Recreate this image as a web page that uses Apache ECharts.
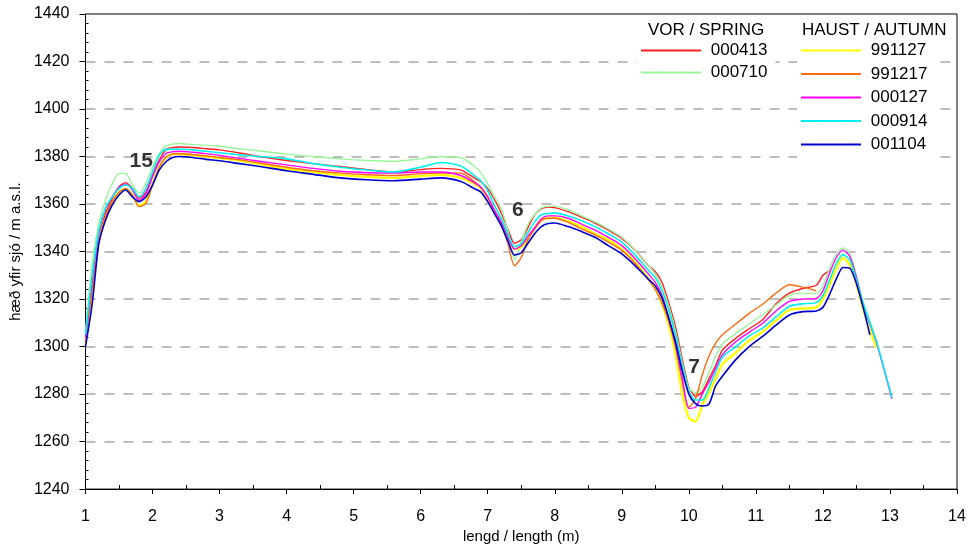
<!DOCTYPE html>
<html>
<head>
<meta charset="utf-8">
<script src="https://cdn.jsdelivr.net/npm/echarts@6/dist/echarts.min.js"></script>
<style>
html,body{margin:0;padding:0;background:#fff;}
#chart{width:969px;height:549px;}
</style>
</head>
<body>
<div id="chart"></div>
<script>
// ---- data ----
const lengths = [1.0,1.1,1.2,1.3,1.4,1.5,1.6,1.7,1.8,1.9,2.0,2.1,2.2,2.3,2.4,2.6,2.8,3.0,3.3,3.6,4.0,4.4,4.8,5.2,5.6,6.0,6.3,6.6,6.8,6.9,7.0,7.1,7.2,7.3,7.4,7.5,7.6,7.7,7.8,7.9,8.0,8.2,8.4,8.6,8.8,9.0,9.2,9.4,9.5,9.6,9.7,9.8,9.9,10.0,10.1,10.2,10.3,10.4,10.5,10.7,10.9,11.1,11.3,11.5,11.7,11.9,12.0,12.1,12.2,12.3,12.4,12.5,12.6,12.7,12.8,12.9,13.03];

const s000413 = [1302,1322,1345,1356,1362.4,1367.3,1369,1366.6,1362.4,1365,
  1372.2,1378.5,1383,1383.8,1384,1383.8,1383.3,1382.8,1381.5,1380,
  1378.3,1377,1375.8,1374.5,1373.5,1374.5,1375,1374.3,1371,1369.4,
  1366.5,1362,1356.4,1349.5,1343.5,1345,1350,1355.5,1358,1358.7,
  1358.5,1356.8,1354.5,1352,1349,1345.5,1340.5,1334,1331.5,1327,
  1318.5,1308.5,1295,1283,1279,1281,1286.5,1292,1298.5,1303.5,
  1307.5,1311.3,1318,1322.5,1324.5,1325.8,1330,1332,null,null,
  null,null,null,null,null,null,null];

const s000710 = [1306,1335,1352,1361.7,1368.7,1372.9,1372.9,1368,1364.5,1368.7,
  1375.7,1381.3,1384.4,1385.2,1385.5,1385,1384.8,1384.3,1383.3,1382.3,
  1381,1380,1379,1378.3,1378,1379,1380,1379.5,1376,1373,
  1368.5,1363,1358,1349,1336.5,1344,1351.5,1355.5,1358.3,1359,
  1359,1357.5,1355,1352.5,1349.5,1346,1340.5,1334,1330.5,1325,
  1317,1306.5,1293.5,1282.5,1280.5,1283,1289,1296,1301,1305.5,
  1309.5,1313.5,1317.5,1321.5,1322.5,1322.3,1325.5,1333,1339,1341.5,
  1339.5,1330,1319,1311,1302,null,null];

const s991127 = [1301,1323,1344,1354,1360.5,1365,1366.3,1363.8,1359.2,1361,
  1368.5,1375.5,1379.5,1381,1381,1380.6,1380,1379.3,1378.3,1376.8,
  1374.8,1373.5,1372.3,1371.5,1371,1371.8,1372.3,1371,1368.5,1366.5,
  1362.5,1357,1352.5,1346,1341,1342,1345.5,1350,1353.4,1354,
  1354.3,1352.8,1350.5,1347.5,1345,1341,1335.5,1328.5,1324.5,1318,
  1309,1297,1280.5,1270,1268.5,1275.5,1280.5,1286.5,1292.5,1297.5,
  1302.5,1306.2,1311,1315.5,1316,1316.5,1320,1326,1333,1337.3,
  1334.5,1326,1315.5,1307,1299.5,null,null];

const s991217 = [1302,1324,1344,1354.5,1361,1365,1366.6,1363.8,1358.9,1360.3,
  1368,1375.5,1379.8,1381,1381.3,1380.8,1380.3,1379.6,1378.6,1377.3,
  1375.5,1374,1373,1372.3,1372,1372.8,1373,1373,1369.5,1367,
  1363,1356.5,1351.5,1343.5,1334,1337.5,1345,1349.5,1353,1354,
  1354,1352.3,1349.5,1347,1344,1340.5,1335,1328,1324,1318.5,
  1310.5,1300,1285.5,1274.5,1278,1288,1296,1301.5,1305,1309.5,
  1314,1317.8,1322.5,1326,1325,1323.5,null,null,null,null,
  null,null,null,null,null,null,null];

const s000127 = [1304,1328,1348,1358,1363,1367,1368.4,1366,1361.5,1364.3,
  1371.5,1377.8,1381.3,1382,1382.2,1381.8,1381.2,1380.5,1379.2,1378,
  1376.5,1375,1373.8,1373.2,1373,1373.5,1373.5,1372,1369,1367,
  1363,1357.5,1352.5,1346.5,1341,1342.5,1346.5,1350,1353.8,1355,
  1355,1354,1351.5,1349,1346,1342.5,1337,1330.5,1327,1321.5,
  1312,1301,1287,1274,1274.5,1280,1285,1291,1296.5,1302,
  1306,1309.8,1315,1319,1320,1320.3,1323.5,1331,1337.5,1340.6,
  1338,1329,1317,1309.5,1301.5,1291.5,1278];

const s000914 = [1305,1330,1349,1358.5,1363,1366.5,1368,1366.6,1363,1366.5,
  1373.5,1380.5,1383,1383,1383.2,1382.8,1382.2,1381.6,1380.7,1380,
  1379,1377,1375.5,1374.3,1373.5,1375.5,1377.5,1376,1372,1369.7,
  1365.5,1359.5,1354,1347.5,1342,1343.5,1348,1352.5,1355.5,1356,
  1356.3,1355,1353,1350.5,1347.5,1344,1338.5,1332,1329,1323.5,
  1315.5,1305,1292,1281,1277.5,1277.5,1282.5,1289.5,1295.5,1300,
  1304.5,1307.8,1312.5,1317,1318,1318.5,1321.5,1328,1335,1338.7,
  1336.5,1328,1318,1310,1302,1292,1278.5];

const s001104 = [1300,1318,1343.5,1353.3,1359.6,1363.8,1365.9,1363,1361,1363,
  1368,1374.3,1377.8,1379.6,1380,1379.6,1378.8,1378.2,1377,1375.8,
  1374,1372.5,1371,1370.2,1369.8,1370.5,1371,1369.5,1366.5,1365,
  1361,1356,1351,1344.5,1338.5,1339.5,1343.5,1347.5,1350.5,1351.8,
  1352,1350.5,1348.4,1346,1342.5,1339,1334,1328.3,1325.5,1320.5,
  1312,1302,1290,1280,1276,1275,1275.8,1283.5,1287.5,1294.5,
  1300,1304.3,1309,1313.3,1314.7,1315,1316.5,1322,1328.5,1333.3,
  1333,1326.5,1316.5,1305,null,null,null];

const springNames = ['000413','000710'];
const autumnNames = ['991127','991217','000127','000914','001104'];
const springTitle = 'VOR / SPRING';
const autumnTitle = 'HAUST / AUTUMN';

const annLabels = ['15','6','7'];
const annX = [1.83, 7.45, 10.08];
const annY = [1378.2, 1357.2, 1291.3];

const xTicks = {min:1, max:14, interval:1};
const yTicks = {min:1240, max:1440, interval:20};

// ---- chart ----
const seriesDefs = [
  {name:'000413', data:s000413, color:'#ff2020', width:1.4},
  {name:'000710', data:s000710, color:'#99f599', width:1.4},
  {name:'991127', data:s991127, color:'#ffff00', width:2.3},
  {name:'991217', data:s991217, color:'#ff6a10', width:1.4},
  {name:'000127', data:s000127, color:'#ff00ff', width:1.4},
  {name:'000914', data:s000914, color:'#00f0f0', width:1.6},
  {name:'001104', data:s001104, color:'#0000d0', width:1.6}
];

function pairs(arr){
  const out = [];
  for (let i=0;i<lengths.length;i++){ if(arr[i]!=null) out.push([lengths[i], arr[i]]); }
  return out;
}

const font = '"Liberation Sans", Arial, sans-serif';
const chart = echarts.init(document.getElementById('chart'), null, {renderer:'canvas'});

const series = seriesDefs.map(s => ({
  name: s.name, type:'line', data: pairs(s.data), showSymbol:false, symbol:'none',
  smooth:0.25, lineStyle:{color:s.color, width:s.width}, itemStyle:{color:s.color},
  animation:false, z:2
}));
series.push({
  name:'annotations', type:'scatter', symbolSize:0, silent:true, animation:false,
  data: annLabels.map((l,i)=>({value:[annX[i], annY[i]], label:{formatter:l}})),
  label:{show:true, position:'inside', fontSize:21, fontWeight:'bold', color:'#000', fontFamily:font},
  z:5
});

const legendBase = {show:true, orient:'vertical', icon:'rect', itemWidth:60, itemHeight:2,
  backgroundColor:'#fff', selectedMode:false, formatter:n=>' '+n,
  textStyle:{fontSize:17, color:'#000', fontFamily:font}};

chart.setOption({
  backgroundColor:'#fff',
  animation:false,
  grid:{left:84, right:12, top:14, bottom:59, show:true, borderColor:'#000', borderWidth:1, backgroundColor:'transparent'},
  legend:[
    Object.assign({}, legendBase, {data:springNames, left:637, top:36, itemGap:5, padding:[6,8,6,4]}),
    Object.assign({}, legendBase, {data:autumnNames, left:797, top:36, itemGap:6.5, padding:[6,8,6,4]})
  ],
  graphic:[
    {type:'text', left:648, top:22, style:{text:springTitle, font:'17px "Liberation Sans", Arial, sans-serif', fill:'#000'}, z:10},
    {type:'text', left:802, top:22, style:{text:autumnTitle, font:'17px "Liberation Sans", Arial, sans-serif', fill:'#000'}, z:10}
  ],
  xAxis:[{
    type:'value', min:xTicks.min, max:xTicks.max, interval:xTicks.interval,
    name:'lengd / length (m)', nameLocation:'middle', nameGap:37,
    nameTextStyle:{fontSize:15, color:'#000', fontFamily:'"Liberation Sans Narrow", "Liberation Sans", Arial'},
    axisLine:{lineStyle:{color:'#000', width:1}},
    axisTick:{show:true, length:5, lineStyle:{color:'#000'}},
    minorTick:{show:false},
    axisLabel:{fontSize:16, color:'#000', margin:19, fontFamily:font, formatter:v=>String(v)},
    splitLine:{show:false}
  },{
    type:'value', min:xTicks.min, max:xTicks.max, interval:xTicks.interval, position:'bottom',
    axisLine:{show:false}, axisLabel:{show:false}, splitLine:{show:false},
    axisTick:{show:false, inside:true},
    minorTick:{show:true, splitNumber:2, length:4, lineStyle:{color:'#000'}}
  }],
  yAxis:[{
    type:'value', min:yTicks.min, max:yTicks.max, interval:yTicks.interval,
    name:'hæð yfir sjó / m a.s.l.', nameLocation:'middle', nameGap:58,
    nameTextStyle:{fontSize:15, color:'#000', fontFamily:font},
    axisLine:{show:true, lineStyle:{color:'#000', width:1}},
    axisTick:{show:true, length:6, lineStyle:{color:'#000'}},
    minorTick:{show:false},
    axisLabel:{fontSize:16, color:'#000', margin:16, fontFamily:font, formatter:v=>String(v)},
    splitLine:{show:true, showMinLine:false, showMaxLine:false, lineStyle:{color:'#a8a8a8', width:1.6, type:[10,9]}}
  },{
    type:'value', min:yTicks.min, max:yTicks.max, interval:yTicks.interval, position:'left', offset:0,
    axisLine:{show:false}, axisLabel:{show:false}, splitLine:{show:false},
    axisTick:{show:false, inside:true},
    minorTick:{show:true, splitNumber:5, length:3, lineStyle:{color:'#000'}}
  }],
  series: series
});
</script>
</body>
</html>
